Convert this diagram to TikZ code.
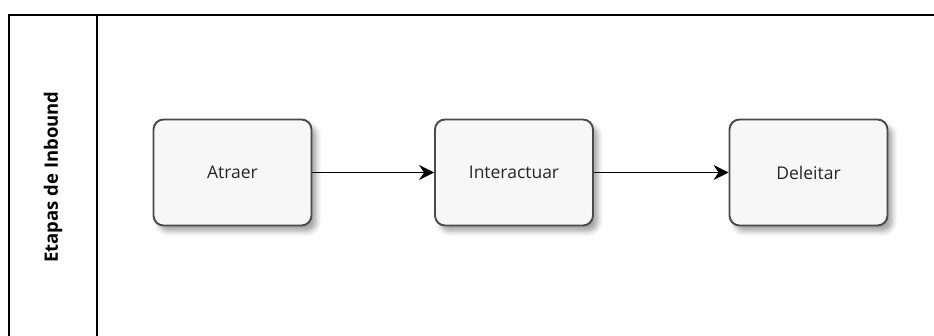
\documentclass[tikz,border=0pt]{standalone}
\usepackage{fontspec}
\setmainfont{Open Sans}
\usetikzlibrary{arrows.meta,shadows.blur}
\definecolor{stepfill}{HTML}{F7F7F7}
\definecolor{stepline}{HTML}{4A4A4A}
\tikzset{
  stage/.style={draw=stepline, line width=1.9pt, fill=stepfill, rounded corners=10pt,
    minimum width=158pt, minimum height=106pt, inner sep=0pt,
    font=\fontsize{17.5}{20}\selectfont, text=black!85,
    blur shadow={shadow xshift=5pt, shadow yshift=-6pt, shadow blur radius=5pt, shadow opacity=35}},
  flow/.style={line width=1.2pt, -{Stealth[length=15pt,width=15pt,inset=5pt]}},
  frame/.style={line width=1.4pt, draw=black}
}
\begin{document}
\begin{tikzpicture}[x=1pt,y=-1pt]
  \useasboundingbox (0,0) rectangle (934,336);
  \clip (0,0) rectangle (934,336);
  % pool frame and lane header
  \draw[frame] (9,346) -- (9,15) -- (944,15);
  \draw[frame] (97,15) -- (97,346);
  \node[rotate=90, font=\bfseries\fontsize{18.5}{21}\selectfont] (lane) at (53,177) {Etapas de Inbound};
  % stages
  \node[stage] (atraer) at (232.5,172.5) {Atraer};
  \node[stage] (interactuar) at (514,172.5) {Interactuar};
  \node[stage] (deleitar) at (808.5,172.5) {Deleitar};
  % transitions
  \draw[flow] (atraer) -- (interactuar);
  \draw[flow] (interactuar) -- (deleitar);
\end{tikzpicture}
\end{document}
